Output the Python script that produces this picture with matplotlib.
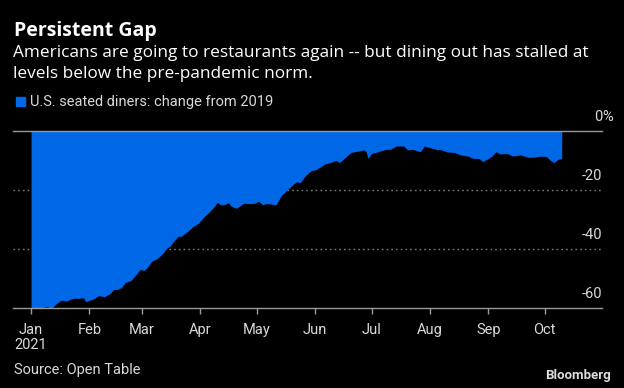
import matplotlib
matplotlib.use("Agg")
import matplotlib.pyplot as plt
import pandas as pd

# Data: day offset from 2021-01-01, % change in seated diners vs 2019
days = [0, 6, 8, 11, 14, 16, 19, 21, 23, 26, 28, 29, 31, 33, 36, 39, 42, 44, 46, 48,
        50, 53, 56, 58, 60, 62, 64, 67, 70, 72, 74, 76, 78, 80, 84, 86, 89, 92, 94, 97,
        99, 101, 103, 105, 106, 109, 111, 113, 116, 119, 121, 123, 125, 127, 130, 133, 136, 139, 141, 143,
        146, 149, 151, 154, 156, 159, 162, 164, 166, 170, 172, 175, 177, 178, 179, 181, 184, 186, 189, 191,
        194, 198, 200, 203, 205, 207, 209, 211, 214, 216, 217, 221, 225, 228, 232, 235, 238, 240, 243, 245,
        247, 249, 253, 256, 260, 264, 267, 271, 274, 276, 278, 280, 282]
values = [-60, -60, -59.5, -60, -58.2, -57.4, -57.6, -57, -56.7, -56.7, -56.5, -57.9, -57.4, -57, -55.8, -56.2, -55.1, -53.7, -53.7, -53.1,
          -51.4, -50.7, -48.5, -46.9, -47.3, -46.1, -44.2, -43.3, -41.5, -39.8, -38.9, -37.2, -35.8, -35.6, -33.6, -32.4, -31.3, -29, -27.9, -25.9,
          -24.2, -25.1, -24.9, -24.3, -25.4, -26.2, -25.4, -24.5, -24.6, -24.5, -23.8, -25, -24.6, -24.7, -25.1, -21.9, -20, -18.3, -17.2, -17.5,
          -15, -13.4, -13.2, -12.1, -11.2, -10.7, -10, -10.7, -9.5, -7.3, -7, -6.7, -6.4, -7, -9.3, -7.6, -7.1, -6.7, -6.2, -6.2,
          -5.1, -5.1, -6.4, -6.2, -6.7, -7, -5.1, -5.5, -6, -6.4, -6.2, -7.1, -7.3, -8.1, -8.5, -9.3, -9.3, -10.4, -9.3, -8.5,
          -7, -7.8, -7.6, -8.5, -8.1, -8.9, -8.9, -8.5, -8.7, -10, -10.7, -9.6, -9.3]
month_labels = ["Jan\n2021", "Feb", "Mar", "Apr", "May", "Jun", "Jul", "Aug", "Sep", "Oct"]
y_ticks = [0, -20, -40, -60]
y_labels = ["0", "-20", "-40", "-60"]

start = pd.Timestamp("2021-01-01")
dates = start + pd.to_timedelta(days, unit="D")

BG = "#000000"
BLUE = "#0068E6"
GRID = "#7a7a7a"
SPINE = "#9a9a9a"
TXT = "#d9d9d9"

title_font = ["Open Sans", "DejaVu Sans"]
tick_font = ["Roboto", "DejaVu Sans"]

fig = plt.figure(figsize=(6.24, 3.88), dpi=100, facecolor=BG)
ax = fig.add_axes([13/624, (388-308)/388, (602-13)/624, (308-131)/388])
ax.set_facecolor(BG)

ax.fill_between(dates, values, 0, color=BLUE, linewidth=0, zorder=2)

ax.set_ylim(-60, 0)
ax.set_xlim(start - pd.Timedelta(days=9.6), start + pd.Timedelta(days=303.4))

for yv in [-20, -40]:
    ax.axhline(yv, color=GRID, linestyle=(0, (1.2, 2.2)), linewidth=1.0, zorder=1)
ax.axhline(0, color=SPINE, linewidth=1.0, zorder=3, clip_on=False)

for s in ["top", "right", "left"]:
    ax.spines[s].set_visible(False)
ax.spines["bottom"].set_color(SPINE)
ax.spines["bottom"].set_linewidth(1.0)
ax.spines["bottom"].set_zorder(4)

month_ticks = pd.date_range("2021-01-01", periods=10, freq="MS")
ax.set_xticks(month_ticks)
ax.set_xticklabels(month_labels, fontfamily=tick_font, fontsize=10.5, color=TXT,
                   linespacing=1.05)
for lab in ax.get_xticklabels():
    lab.set_horizontalalignment("center")
    lab.set_multialignment("center")
ax.tick_params(axis="x", direction="out", length=4, width=1, color=SPINE, pad=7)
ax.set_yticks([])

for yv, lab in zip(y_ticks, y_labels):
    ax.annotate(lab, xy=(1.0, yv), xycoords=("axes fraction", "data"),
                xytext=(0, 5), textcoords="offset points", ha="right", va="bottom",
                fontfamily=tick_font, fontsize=10.5, color=TXT, annotation_clip=False)
ax.annotate("%", xy=(1.0, 0), xycoords=("axes fraction", "data"),
            xytext=(0, 5), textcoords="offset points", ha="left", va="bottom",
            fontfamily=tick_font, fontsize=10.5, color=TXT, annotation_clip=False)

fig.text(14/624, 1 - 36/388, "Persistent Gap", fontfamily=title_font, fontweight="bold",
         fontsize=14.0, color="white", ha="left", va="baseline")
fig.text(13/624, 1 - 57/388, "Americans are going to restaurants again -- but dining out has stalled at",
         fontfamily=title_font, fontsize=12.4, color="white", ha="left", va="baseline")
fig.text(13/624, 1 - 78/388, "levels below the pre-pandemic norm.",
         fontfamily=title_font, fontsize=12.4, color="white", ha="left", va="baseline")

# legend
fig.patches.append(matplotlib.patches.Rectangle((16/624, 1 - 106/388), 9/624, 9/388,
                                                transform=fig.transFigure, color=BLUE))
fig.text(30/624, 1 - 106/388, "U.S. seated diners: change from 2019", fontfamily=tick_font,
         fontsize=10.5, color=TXT, ha="left", va="baseline")

fig.text(14/624, 1 - 374/388, "Source: Open Table", fontfamily=tick_font, fontsize=10.5,
         color=TXT, ha="left", va="baseline")
fig.text(611/624, 1 - 379/388, "Bloomberg", fontfamily=["Roboto", "DejaVu Sans"], fontweight="bold",
         fontsize=9.5, color="#dcdcdc", ha="right", va="baseline")

fig.savefig("out.png", dpi=100, facecolor=BG)
